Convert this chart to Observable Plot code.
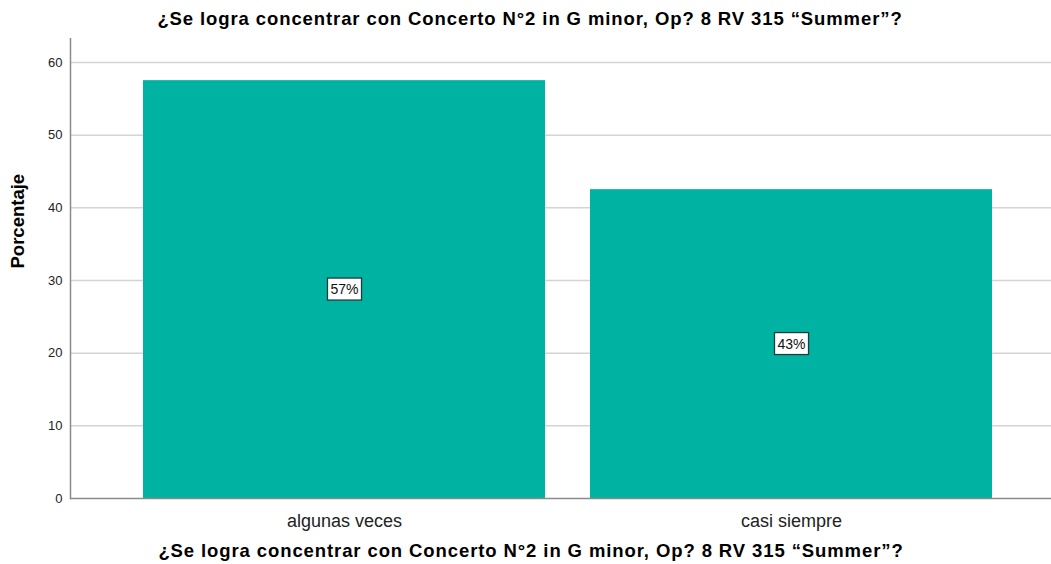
<!DOCTYPE html>
<html>
<head>
<meta charset="utf-8">
<script src="https://cdn.jsdelivr.net/npm/d3@7"></script>
<script src="https://cdn.jsdelivr.net/npm/@observablehq/plot@0.6"></script>
<style>
  html, body { margin: 0; padding: 0; background: #fff; }
  body { width: 1051px; height: 564px; overflow: hidden; font-family: "Liberation Sans", Arial, sans-serif; }
  #title { height: 38px; box-sizing: border-box; padding-top: 8px; padding-left: 9px; text-align: center;
           font-size: 18.5px; letter-spacing: 0.9px; font-weight: bold; color: #000; line-height: 21px; }
  #chart svg { display: block; }
  .bottomlabel text { letter-spacing: 0.9px; }
</style>
</head>
<body>
<div id="title"></div>
<div id="chart"></div>
<script>
const titleText = "¿Se logra concentrar con Concerto N°2 in G minor, Op? 8 RV 315 “Summer”?";
const categories = ["algunas veces", "casi siempre"];
const values = [57.5, 42.5];
const valueLabels = ["57%", "43%"];
const yTicks = [0, 10, 20, 30, 40, 50, 60];
const yLabel = "Porcentaje";
const xLabel = "¿Se logra concentrar con Concerto N°2 in G minor, Op? 8 RV 315 “Summer”?";

document.getElementById("title").textContent = titleText;

const data = categories.map((c, i) => ({cat: c, value: values[i], label: valueLabels[i]}));

const chart = Plot.plot({
  width: 1051,
  height: 526,
  marginTop: 0,
  marginBottom: 66,
  marginLeft: 70,
  marginRight: 0,
  style: {fontFamily: "Liberation Sans, Arial, sans-serif", background: "#fff"},
  x: {type: "band", domain: categories, range: [70, 1065.5], paddingInner: 0.1017, paddingOuter: 0.163, align: 0.5, label: null},
  y: {domain: [0, 63.3], label: null},
  marks: [
    Plot.ruleY(yTicks.filter(d => d > 0), {stroke: "#d4d4d4", strokeWidth: 1.5}),
    Plot.barY(data, {x: "cat", y: "value", fill: "#00b2a1"}),
    Plot.ruleY([0], {stroke: "#8a8a8a", strokeWidth: 1.5}),
    Plot.frame({anchor: "left", stroke: "#8a8a8a", strokeWidth: 1.5}),
    Plot.axisY({ticks: yTicks, tickSize: 0, tickPadding: 8, fontSize: 13, fill: "#222", label: null}),
    Plot.axisX({tickSize: 0, tickPadding: 16, fontSize: 18, fill: "#222", label: null}),
    Plot.text(data, {x: "cat", y: d => d.value / 2, text: "label", fontSize: 14, fill: "#111", className: "barlabel"}),
    Plot.text([yLabel], {frameAnchor: "left", dx: -52, rotate: -90, text: d => d, fontSize: 18.5, fontWeight: "bold", fill: "#000"}),
    Plot.text([xLabel], {frameAnchor: "bottom", dx: -30, dy: 58, text: d => d, fontSize: 18.5, fontWeight: "bold", fill: "#000", className: "bottomlabel"})
  ]
});
document.getElementById("chart").appendChild(chart);

// boxes behind the value labels
chart.querySelectorAll(".barlabel text").forEach(t => {
  const b = t.getBBox();
  const r = document.createElementNS("http://www.w3.org/2000/svg", "rect");
  const padX = 3, padY = 3;
  r.setAttribute("x", b.x - padX);
  r.setAttribute("y", b.y - padY);
  r.setAttribute("width", b.width + 2 * padX);
  r.setAttribute("height", b.height + 2 * padY);
  r.setAttribute("fill", "#fff");
  r.setAttribute("stroke", "#1e3b3b");
  r.setAttribute("stroke-width", 1.3);
  const tr = t.getAttribute("transform");
  if (tr) r.setAttribute("transform", tr);
  t.parentNode.insertBefore(r, t);
});
</script>
</body>
</html>
